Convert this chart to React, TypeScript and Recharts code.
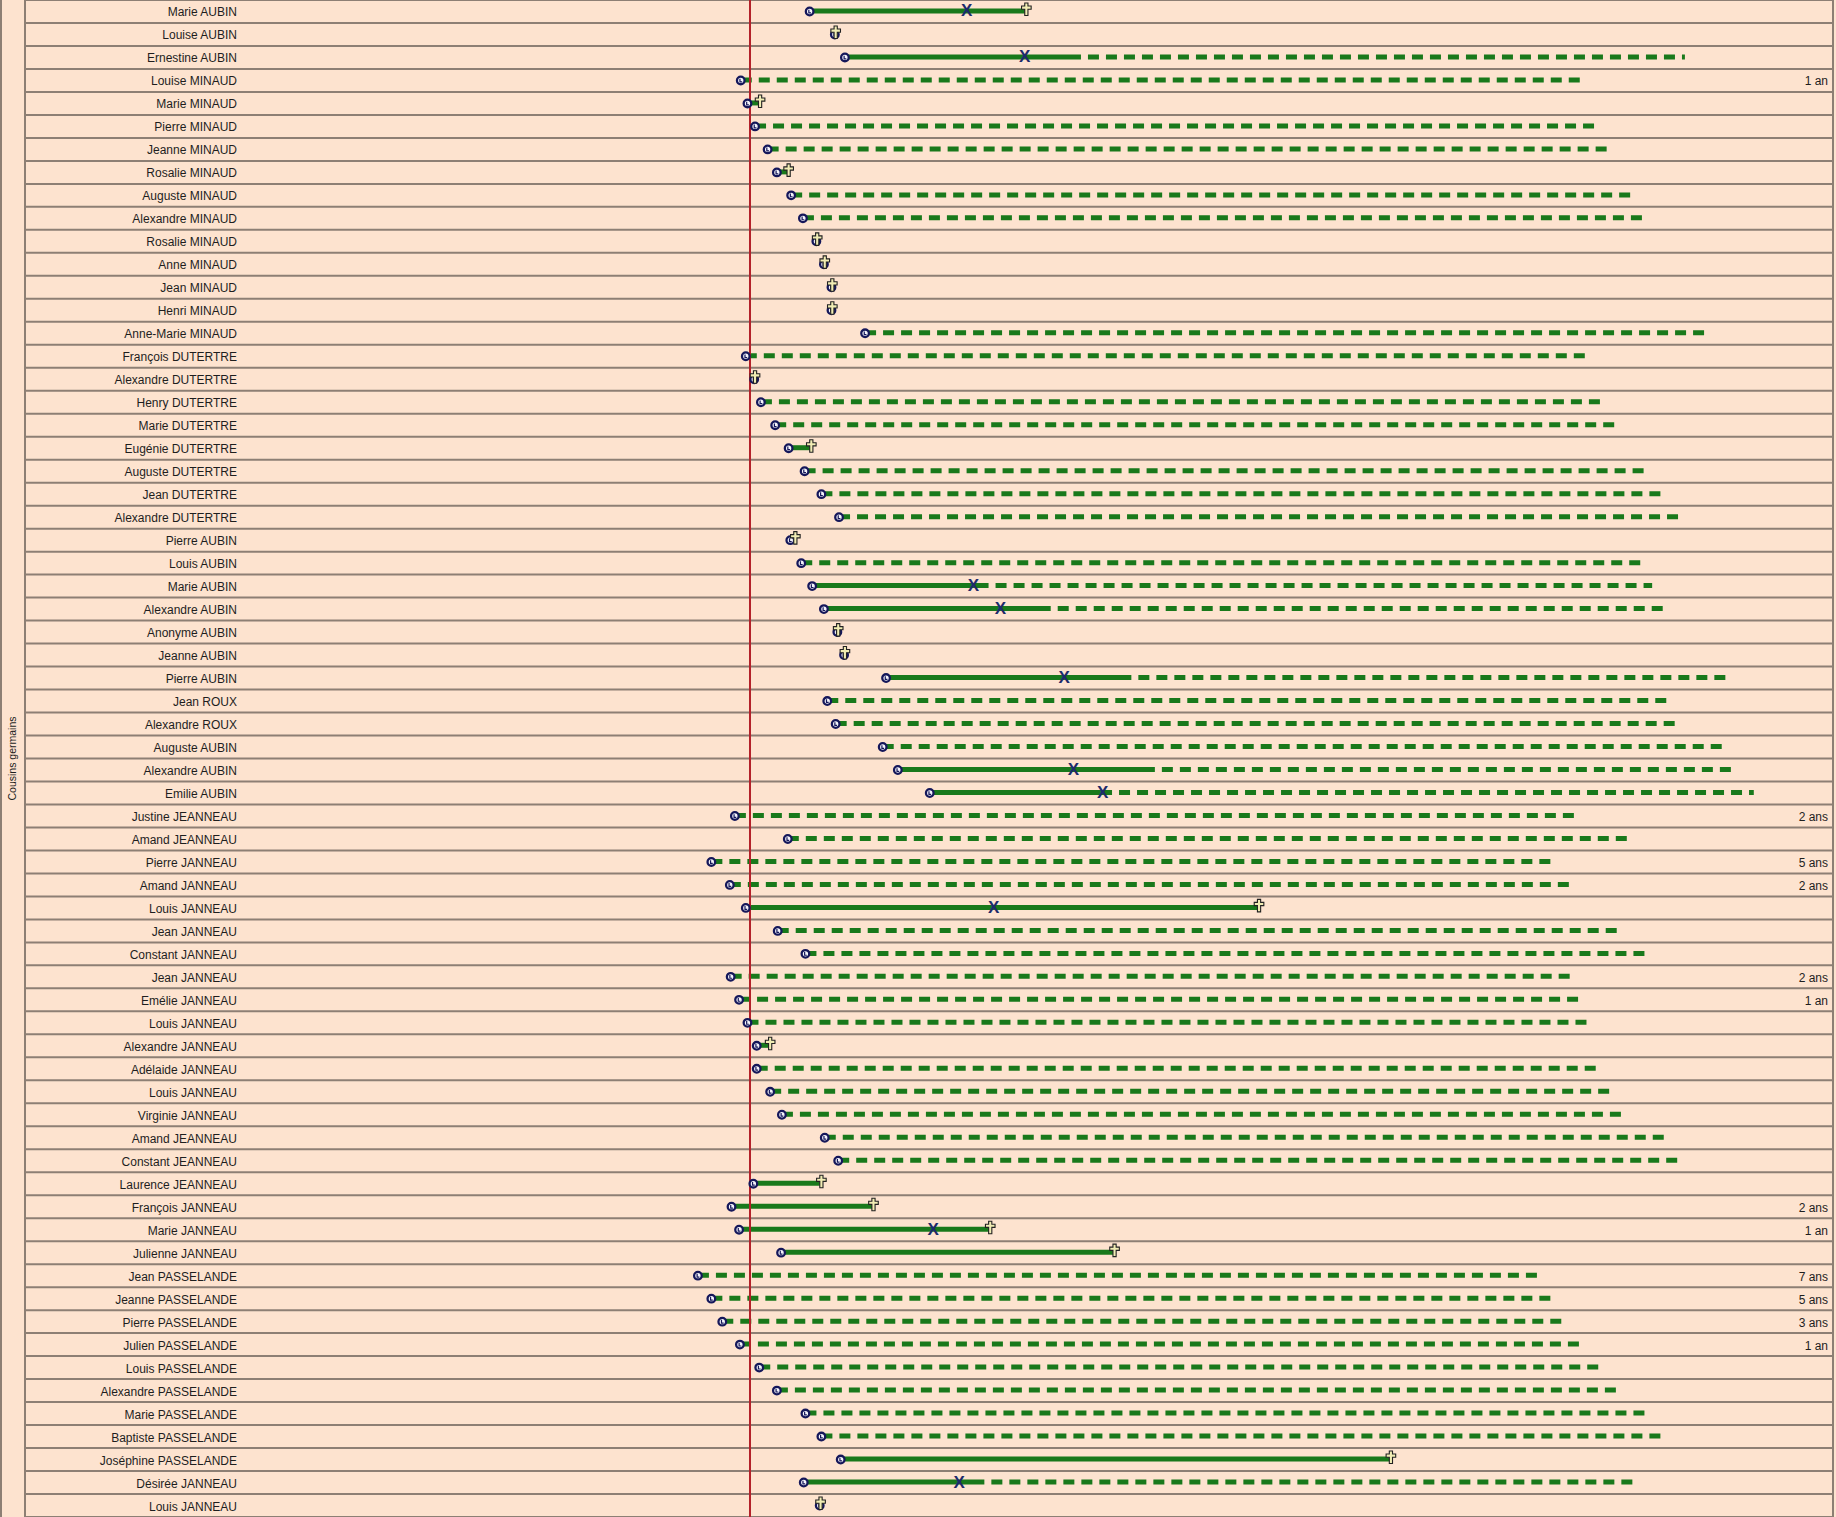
import { ComposedChart, Bar, Scatter, XAxis, YAxis, CartesianGrid, ReferenceLine } from 'recharts';

// one row per cousin, top to bottom
const names = [
  'Marie AUBIN', 'Louise AUBIN', 'Ernestine AUBIN', 'Louise MINAUD', 'Marie MINAUD',
  'Pierre MINAUD', 'Jeanne MINAUD', 'Rosalie MINAUD', 'Auguste MINAUD', 'Alexandre MINAUD',
  'Rosalie MINAUD', 'Anne MINAUD', 'Jean MINAUD', 'Henri MINAUD', 'Anne-Marie MINAUD',
  'François DUTERTRE', 'Alexandre DUTERTRE', 'Henry DUTERTRE', 'Marie DUTERTRE', 'Eugénie DUTERTRE',
  'Auguste DUTERTRE', 'Jean DUTERTRE', 'Alexandre DUTERTRE', 'Pierre AUBIN', 'Louis AUBIN',
  'Marie AUBIN', 'Alexandre AUBIN', 'Anonyme AUBIN', 'Jeanne AUBIN', 'Pierre AUBIN',
  'Jean ROUX', 'Alexandre ROUX', 'Auguste AUBIN', 'Alexandre AUBIN', 'Emilie AUBIN',
  'Justine JEANNEAU', 'Amand JEANNEAU', 'Pierre JANNEAU', 'Amand JANNEAU', 'Louis JANNEAU',
  'Jean JANNEAU', 'Constant JANNEAU', 'Jean JANNEAU', 'Emélie JANNEAU', 'Louis JANNEAU',
  'Alexandre JANNEAU', 'Adélaide JANNEAU', 'Louis JANNEAU', 'Virginie JANNEAU', 'Amand JEANNEAU',
  'Constant JEANNEAU', 'Laurence JEANNEAU', 'François JANNEAU', 'Marie JANNEAU', 'Julienne JANNEAU',
  'Jean PASSELANDE', 'Jeanne PASSELANDE', 'Pierre PASSELANDE', 'Julien PASSELANDE', 'Louis PASSELANDE',
  'Alexandre PASSELANDE', 'Marie PASSELANDE', 'Baptiste PASSELANDE', 'Joséphine PASSELANDE', 'Désirée JANNEAU',
  'Louis JANNEAU',
];

// years, relative to the reference person's birth (red line)
const birth = [
  7.1, 10.1, 11.3, -1.1, -0.3, 0.6, 2.1, 3.2, 4.9, 6.3,
  7.9, 8.8, 9.7, 9.7, 13.7, -0.5, 0.5, 1.3, 3.0, 4.6,
  6.5, 8.5, 10.6, 4.8, 6.1, 7.4, 8.8, 10.4, 11.2, 16.2,
  9.2, 10.2, 15.8, 17.6, 21.4, -1.8, 4.5, -4.6, -2.4, -0.5,
  3.3, 6.6, -2.3, -1.3, -0.3, 0.8, 0.8, 2.4, 3.8, 8.9,
  10.5, 0.4, -2.2, -1.3, 3.7, -6.2, -4.6, -3.3, -1.2, 1.1,
  3.2, 6.6, 8.5, 10.8, 6.4, 8.3,
];

// row index -> year
const marriage: Record<number, number> = {
  0: 25.8, 2: 32.7, 25: 26.6, 26: 29.8, 29: 37.4, 33: 38.5, 34: 42.0, 39: 29.0, 53: 21.8, 64: 24.9,
};

const death: Record<number, number> = {
  0: 32.9, 1: 10.2, 4: 1.2, 7: 4.6, 10: 8.0, 11: 8.9, 12: 9.8, 13: 9.8, 16: 0.6, 19: 7.3,
  23: 5.4, 27: 10.5, 28: 11.3, 39: 60.6, 45: 2.4, 51: 8.5, 52: 14.7, 53: 28.6, 54: 43.4, 63: 76.3,
  65: 8.4,
};

// last attested event for people whose death is unknown
const lastSeen: Record<number, number> = {
  2: 39.4, 25: 28.4, 26: 35.8, 29: 45.4, 33: 48.2, 34: 43.1, 64: 27.9,
};

// open lifelines run 100 years, except where the end is read differently
const HORIZON = 100;
const openEnd: Record<number, number> = { 34: 119.5, 64: 105.2 };

// age gap shown on the right for cousins born before the reference person
const ageGap: Record<number, string> = {
  3: '1 an', 35: '2 ans', 37: '5 ans', 38: '2 ans', 42: '2 ans', 43: '1 an',
  52: '2 ans', 53: '1 an', 55: '7 ans', 56: '5 ans', 57: '3 ans', 58: '1 an',
};

const rows = names.map((name, i) => {
  const d = death[i] ?? null;
  return {
    key: String(i),
    name,
    b: birth[i],
    m: marriage[i] ?? null,
    d,
    span: [birth[i], d ?? openEnd[i] ?? birth[i] + HORIZON],
    solidTo: d ?? lastSeen[i] ?? birth[i],
  };
});

const BG = '#fde3cf';
const GRID = '#8d7f74';
const GREEN = '#19791b';
const NAVY = '#15175a';

const Lifeline = (props: any) => {
  const { x, y, width, height, payload } = props;
  const [t0, t1] = payload.span;
  const cy = y + height / 2;
  const xs = t1 === t0 ? x : x + ((payload.solidTo - t0) / (t1 - t0)) * width;
  const hasSolid = payload.solidTo > t0;
  return (
    <g>
      {hasSolid && <line x1={x} x2={xs} y1={cy} y2={cy} stroke={GREEN} strokeWidth={5} />}
      {payload.d == null && (
        <line
          x1={xs}
          x2={x + width}
          y1={cy}
          y2={cy}
          stroke={GREEN}
          strokeWidth={5}
          strokeDasharray="11 7"
          strokeDashoffset={hasSolid ? 11 : 0}
        />
      )}
    </g>
  );
};

const BirthMark = (p: any) => {
  if (p.cx == null || p.payload.b == null) return null;
  const { cx, cy } = p;
  return (
    <g>
      <circle cx={cx} cy={cy} r={3.8} fill="#f4f4fb" stroke={NAVY} strokeWidth={2.3} />
      <path d={`M${cx - 0.8} ${cy - 1.8}V${cy + 1.4}H${cx + 1.4}`} stroke={NAVY} strokeWidth={1.2} fill="none" />
    </g>
  );
};

const MarriageMark = (p: any) => {
  if (p.cx == null || p.payload.m == null) return null;
  return (
    <text x={p.cx} y={p.cy} dy={5} textAnchor="middle" fontSize={17} fontWeight="bold" fill="#1d2b6b">
      X
    </text>
  );
};

const DeathMark = (p: any) => {
  if (p.cx == null || p.payload.d == null) return null;
  const { cx, cy } = p;
  const d = `M${cx - 1.6} ${cy - 8.5}H${cx + 1.6}V${cy - 5.5}H${cx + 4.8}V${cy - 2.3}H${cx + 1.6}V${cy + 4}H${cx - 1.6}V${cy - 2.3}H${cx - 4.8}V${cy - 5.5}H${cx - 1.6}Z`;
  return <path d={d} fill="#f1edb4" stroke="#222" strokeWidth={1.1} />;
};

const NAME_RIGHT = 237;
const AGE_RIGHT = 1828;

const NameTick = (p: any) => (
  <text x={NAME_RIGHT} y={p.y} dy={5} textAnchor="end" fontSize={12} fill="#1e1e1e">
    {names[Number(p.payload.value)]}
  </text>
);

const AgeTick = (p: any) => {
  const label = ageGap[Number(p.payload.value)];
  if (!label) return null;
  return (
    <text x={AGE_RIGHT} y={p.y} dy={5} textAnchor="end" fontSize={12} fill="#1e1e1e">
      {label}
    </text>
  );
};

export default function App() {
  return (
    <div
      style={{
        position: 'absolute',
        left: 0,
        top: 0,
        width: 1836,
        height: 1517,
        background: BG,
        fontFamily: '"Liberation Sans", Arial, sans-serif',
      }}
    >
      <ComposedChart
        layout="vertical"
        width={1836}
        height={1517}
        data={rows}
        margin={{ top: 0, right: 0, bottom: 0, left: 0 }}
      >
        <CartesianGrid
          stroke={GRID}
          strokeWidth={2}
          horizontalCoordinatesGenerator={({ offset }: any) =>
            rows.map((_, i) => offset.top + (i * offset.height) / rows.length).concat(offset.top + offset.height)
          }
          verticalCoordinatesGenerator={({ offset }: any) => [1, offset.left + offset.width]}
        />
        <XAxis type="number" domain={[-86.31, 128.93]} allowDataOverflow hide />
        <YAxis
          type="category"
          dataKey="key"
          width={25}
          interval={0}
          tickLine={false}
          axisLine={{ stroke: GRID, strokeWidth: 2 }}
          tick={NameTick}
          label={{ value: 'Cousins germains', angle: -90, position: 'center', fontSize: 10.5, fill: '#1e1e1e' }}
        />
        <YAxis
          yAxisId="right"
          orientation="right"
          type="category"
          dataKey="key"
          width={3}
          interval={0}
          tickLine={false}
          axisLine={false}
          tick={AgeTick}
        />
        <ReferenceLine x={0} stroke="#b3222a" strokeWidth={2} />
        <Bar dataKey="span" barSize={6} shape={Lifeline} isAnimationActive={false} />
        <Scatter dataKey="b" shape={BirthMark} isAnimationActive={false} />
        <Scatter dataKey="m" shape={MarriageMark} isAnimationActive={false} />
        <Scatter dataKey="d" shape={DeathMark} isAnimationActive={false} />
      </ComposedChart>
    </div>
  );
}
